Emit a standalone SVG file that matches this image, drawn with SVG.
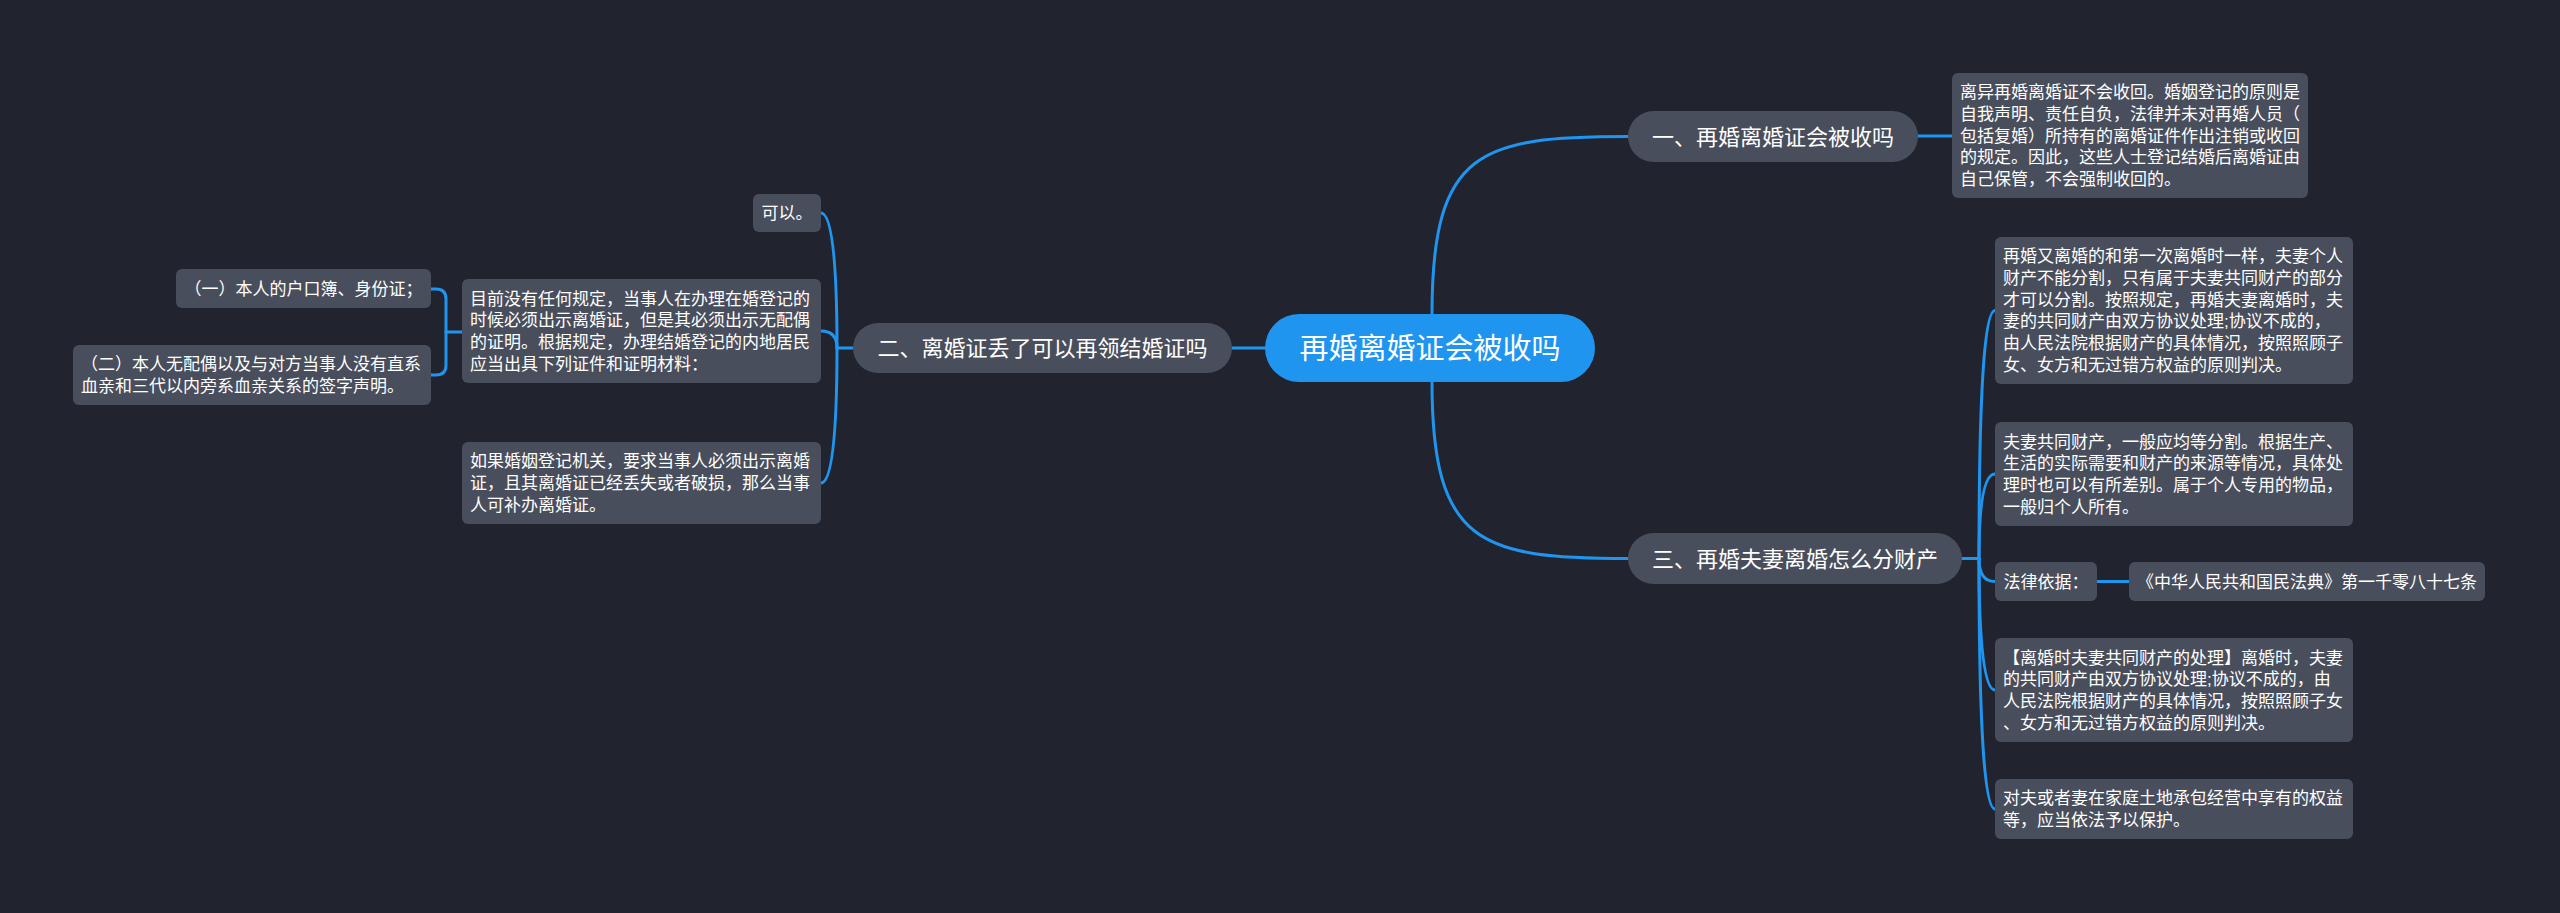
<svg xmlns="http://www.w3.org/2000/svg" width="2560" height="913" viewBox="0 0 2560 913">
<style>
.bg{fill:#21242f}
.node{fill:#494e5c}
.box{fill:#494e5c}
.root{fill:#1f95ef}
.t{font-family:"Liberation Sans","Noto Sans CJK SC",sans-serif;fill:#ffffff}
.t17{font-size:17px}
.t22{font-size:22px}
.t29{font-size:29px}
.c{text-anchor:middle}
.ln{fill:none;stroke:#1f95ef;stroke-width:3;stroke-linecap:round}
</style>
<rect class="bg" x="0" y="0" width="2560" height="913"/>
<g id="connectors">
  <path class="ln" d="M1265 348 H1232"/>
  <path class="ln" d="M1432 348 V314 C1432 150 1480 136.5 1628 136.5"/>
  <path class="ln" d="M1432 348 V382 C1432 544 1480 558.5 1628 558.5"/>
  <path class="ln" d="M1918 136 H1952"/>
  <path class="ln" d="M1962 558.5 H1979"/>
  <path class="ln" d="M1979 558.5 Q1979 310.5 1995 310.5"/>
  <path class="ln" d="M1979 558.5 Q1979 474 1995 474"/>
  <path class="ln" d="M1979 558.5 Q1979 581.5 1995 581.5"/>
  <path class="ln" d="M1979 558.5 Q1979 690 1995 690"/>
  <path class="ln" d="M1979 558.5 Q1979 809 1995 809"/>
  <path class="ln" d="M2097 581.5 H2129"/>
  <path class="ln" d="M853 348 H837"/>
  <path class="ln" d="M837 348 Q837 213 821 213"/>
  <path class="ln" d="M837 348 Q837 331 821 331"/>
  <path class="ln" d="M837 348 Q837 483 821 483"/>
  <path class="ln" d="M462 332 H446"/>
  <path class="ln" d="M446 332 V299 Q446 289 436 289 H431"/>
  <path class="ln" d="M446 332 V365 Q446 375 436 375 H431"/>
</g>
<g id="root">
  <rect class="root" x="1265" y="314" width="330" height="68" rx="34"/>
  <text class="t t29 c" x="1430" y="359">再婚离婚证会被收吗</text>
</g>
<g id="n1">
  <rect class="node" x="1628" y="111" width="290" height="51" rx="25.5"/>
  <text class="t t22 c" x="1773" y="144.5">一、再婚离婚证会被收吗</text>
</g>
<g id="n1a">
  <rect class="box" x="1952" y="73" width="356" height="125" rx="6"/>
  <text class="t t17" x="1960" y="98">离异再婚离婚证不会收回。婚姻登记的原则是</text>
  <text class="t t17" x="1960" y="120">自我声明、责任自负，法律并未对再婚人员（</text>
  <text class="t t17" x="1960" y="141.5">包括复婚）所持有的离婚证件作出注销或收回</text>
  <text class="t t17" x="1960" y="163">的规定。因此，这些人士登记结婚后离婚证由</text>
  <text class="t t17" x="1960" y="185">自己保管，不会强制收回的。</text>
</g>
<g id="n2">
  <rect class="node" x="853" y="323" width="379" height="50" rx="25"/>
  <text class="t t22 c" x="1042.5" y="356">二、离婚证丢了可以再领结婚证吗</text>
</g>
<g id="n2a">
  <rect class="box" x="753" y="194" width="68" height="38" rx="6"/>
  <text class="t t17" x="761.5" y="219">可以。</text>
</g>
<g id="n2b">
  <rect class="box" x="462" y="279" width="359" height="104" rx="6"/>
  <text class="t t17" x="470" y="304.5">目前没有任何规定，当事人在办理在婚登记的</text>
  <text class="t t17" x="470" y="326">时候必须出示离婚证，但是其必须出示无配偶</text>
  <text class="t t17" x="470" y="348">的证明。根据规定，办理结婚登记的内地居民</text>
  <text class="t t17" x="470" y="369.5">应当出具下列证件和证明材料：</text>
</g>
<g id="n2b1">
  <rect class="box" x="176" y="269" width="255" height="39" rx="6"/>
  <text class="t t17" x="184.5" y="294.5">（一）本人的户口簿、身份证；</text>
</g>
<g id="n2b2">
  <rect class="box" x="73" y="345" width="358" height="60" rx="6"/>
  <text class="t t17" x="81" y="370">（二）本人无配偶以及与对方当事人没有直系</text>
  <text class="t t17" x="81" y="392">血亲和三代以内旁系血亲关系的签字声明。</text>
</g>
<g id="n2c">
  <rect class="box" x="462" y="442" width="359" height="82" rx="6"/>
  <text class="t t17" x="470" y="467.3">如果婚姻登记机关，要求当事人必须出示离婚</text>
  <text class="t t17" x="470" y="489">证，且其离婚证已经丢失或者破损，那么当事</text>
  <text class="t t17" x="470" y="510.7">人可补办离婚证。</text>
</g>
<g id="n3">
  <rect class="node" x="1628" y="533" width="334" height="51" rx="25.5"/>
  <text class="t t22 c" x="1795" y="566.5">三、再婚夫妻离婚怎么分财产</text>
</g>
<g id="n3a">
  <rect class="box" x="1995" y="237" width="358" height="147" rx="6"/>
  <text class="t t17" x="2003" y="262.3">再婚又离婚的和第一次离婚时一样，夫妻个人</text>
  <text class="t t17" x="2003" y="284">财产不能分割，只有属于夫妻共同财产的部分</text>
  <text class="t t17" x="2003" y="305.7">才可以分割。按照规定，再婚夫妻离婚时，夫</text>
  <text class="t t17" x="2003" y="327.4">妻的共同财产由双方协议处理;协议不成的，</text>
  <text class="t t17" x="2003" y="349">由人民法院根据财产的具体情况，按照照顾子</text>
  <text class="t t17" x="2003" y="370.8">女、女方和无过错方权益的原则判决。</text>
</g>
<g id="n3b">
  <rect class="box" x="1995" y="422" width="358" height="104" rx="6"/>
  <text class="t t17" x="2003" y="447.5">夫妻共同财产，一般应均等分割。根据生产、</text>
  <text class="t t17" x="2003" y="469">生活的实际需要和财产的来源等情况，具体处</text>
  <text class="t t17" x="2003" y="491">理时也可以有所差别。属于个人专用的物品，</text>
  <text class="t t17" x="2003" y="512.5">一般归个人所有。</text>
</g>
<g id="n3c">
  <rect class="box" x="1995" y="562" width="102" height="39" rx="6"/>
  <text class="t t17" x="2003.5" y="587.5">法律依据：</text>
</g>
<g id="n3c1">
  <rect class="box" x="2129" y="562" width="356" height="39" rx="6"/>
  <text class="t t17" x="2137" y="587.5">《中华人民共和国民法典》第一千零八十七条</text>
</g>
<g id="n3d">
  <rect class="box" x="1995" y="638" width="358" height="104" rx="6"/>
  <text class="t t17" x="2003" y="663.5">【离婚时夫妻共同财产的处理】离婚时，夫妻</text>
  <text class="t t17" x="2003" y="685">的共同财产由双方协议处理;协议不成的，由</text>
  <text class="t t17" x="2003" y="707">人民法院根据财产的具体情况，按照照顾子女</text>
  <text class="t t17" x="2003" y="728.5">、女方和无过错方权益的原则判决。</text>
</g>
<g id="n3e">
  <rect class="box" x="1995" y="779" width="358" height="60" rx="6"/>
  <text class="t t17" x="2003" y="804">对夫或者妻在家庭土地承包经营中享有的权益</text>
  <text class="t t17" x="2003" y="826">等，应当依法予以保护。</text>
</g>
</svg>
